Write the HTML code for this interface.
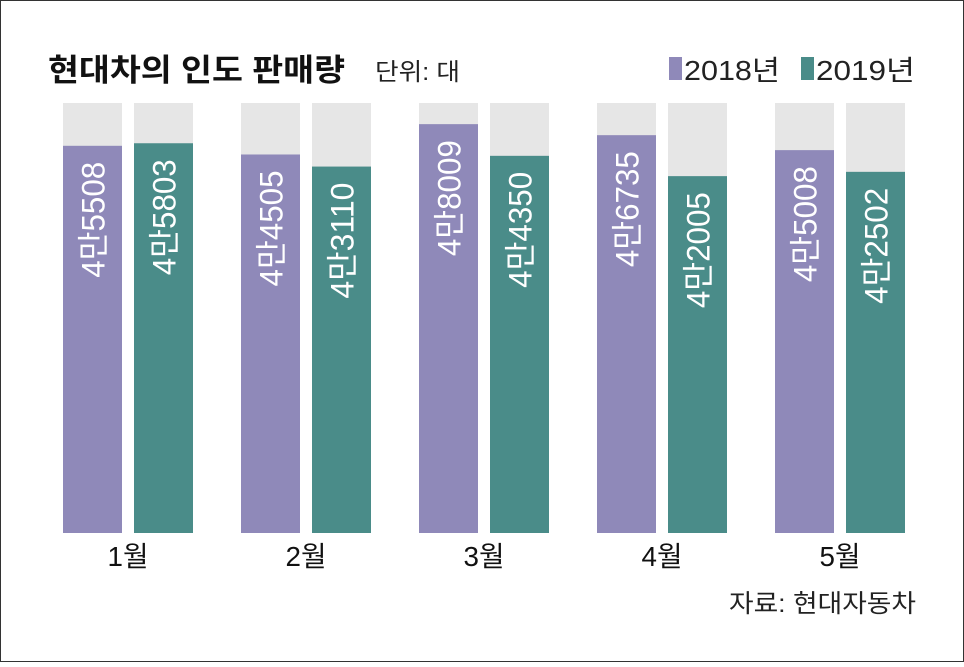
<!DOCTYPE html>
<html><head><meta charset="utf-8"><style>
body{margin:0;background:#fff;}
svg text{font-family:"Liberation Sans","Noto Sans CJK KR",sans-serif;}
</style></head><body>
<svg width="964" height="662" viewBox="0 0 964 662">
<rect x="0.5" y="0.5" width="963" height="661" fill="#fff" stroke="#333"/>
<text x="48" y="81" font-size="31" font-weight="bold" fill="#111" textLength="297" lengthAdjust="spacingAndGlyphs">현대차의 인도 판매량</text>
<text x="375" y="80" font-size="24" fill="#222" textLength="85" lengthAdjust="spacingAndGlyphs">단위: 대</text>
<rect x="669" y="57" width="13" height="23" fill="#8f89b9"/>
<text x="684" y="80" font-size="28" fill="#222" textLength="96" lengthAdjust="spacingAndGlyphs">2018년</text>
<rect x="801" y="57" width="13" height="23" fill="#4a8c89"/>
<text x="816" y="80" font-size="28" fill="#222" textLength="99" lengthAdjust="spacingAndGlyphs">2019년</text>
<g id="bars"></g>
<text x="729" y="612" font-size="25" fill="#222" textLength="187" lengthAdjust="spacingAndGlyphs">자료: 현대자동차</text>
</svg>
<script>
const months=["1월","2월","3월","4월","5월"];
const values2018=[45508,44505,48009,46735,45008];
const values2019=[45803,43110,44350,42005,42502];
const labels2018=["4만5508","4만4505","4만8009","4만6735","4만5008"];
const labels2019=["4만5803","4만3110","4만4350","4만2005","4만2502"];
const domainMin=800, domainMax=50450;
const baseY=533, topY=103;
function y(v){return baseY-(v-domainMin)/(domainMax-domainMin)*(baseY-topY);}
function gx(i){return 63+i*178;}
const bw=59, ns="http://www.w3.org/2000/svg", g=document.getElementById('bars');
function mk(t,a){const e=document.createElementNS(ns,t);for(const k in a)e.setAttribute(k,a[k]);g.appendChild(e);return e;}
months.forEach((m,i)=>{
  [[values2018,labels2018,"#8f89b9",0,"2018"],[values2019,labels2019,"#4a8c89",71,"2019"]].forEach(([vals,labs,col,off,yr])=>{
    const x=gx(i)+off;
    const bg=mk('rect',{x:x,y:topY,width:bw,height:baseY-topY,fill:'#e6e6e6'});
    
    
    const yy=y(vals[i]);
    const r=mk('rect',{x:x,y:yy,width:bw,height:baseY-yy,fill:col});
    
    
    const cx=x+bw/2, ty=yy+16;
    const t=mk('text',{x:0,y:0,fill:'#fff','font-size':32,'text-anchor':'end',textLength:116,lengthAdjust:'spacingAndGlyphs',transform:`translate(${cx+12} ${ty}) rotate(-90)`});
    t.textContent=labs[i];
    
    
  });
  const ml=mk('text',{x:gx(i)+65,y:566,'font-size':28,fill:'#111','text-anchor':'middle',textLength:41,lengthAdjust:'spacingAndGlyphs'});
  ml.textContent=m;
  
  
});
</script>
</body></html>
